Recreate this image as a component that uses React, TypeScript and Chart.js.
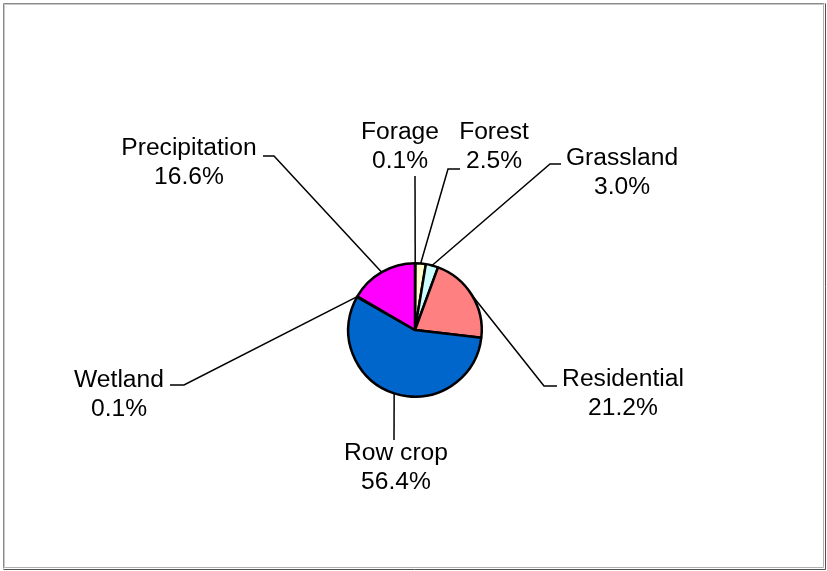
import React, { useEffect, useRef } from "react";
import { Chart, registerables } from "chart.js";

Chart.register(...registerables);

const categories = ["Forage", "Forest", "Grassland", "Residential", "Row crop", "Wetland", "Precipitation"];
const shares = [0.1, 2.5, 3.0, 21.2, 56.4, 0.1, 16.6];
const sliceColors = ["#993366", "#FFFFCC", "#CCFFFF", "#FF8080", "#0066CC", "#CCCCFF", "#FF00FF"];

// Layout of the callout labels, relative to the pie centre (pixels).
// label: centre of first text line; elbow: [near-label point, bend point] or single point.
const labelLayout: { label: [number, number]; elbow: [number, number][] }[] = [
  { label: [-15, -197], elbow: [[0, -154]] },
  { label: [79, -197], elbow: [[45, -161], [33, -161]] },
  { label: [207, -171], elbow: [[146, -166], [135, -166]] },
  { label: [208, 50], elbow: [[142, 56], [129, 56]] },
  { label: [-19, 124], elbow: [[-21, 110]] },
  { label: [-296, 51], elbow: [[-245, 55], [-231, 55]] },
  { label: [-226, -181], elbow: [[-152, -174], [-141, -174]] },
];

const FONT = "23px 'Liberation Sans', Arial, sans-serif";
const XSCALE = 1.07;
const LINE_GAP = 29;

const calloutPlugin = {
  id: "callouts",
  beforeDraw(chart: any) {
    const ctx = chart.ctx;
    const w = chart.width;
    const h = chart.height;
    ctx.save();
    ctx.fillStyle = "#ffffff";
    ctx.fillRect(0, 0, w, h);
    ctx.lineWidth = 1;
    ctx.strokeStyle = "#8a8a8a";
    ctx.beginPath();
    ctx.moveTo(3.5, h - 2.5);
    ctx.lineTo(3.5, 3.5);
    ctx.lineTo(w - 2.5, 3.5);
    ctx.stroke();
    ctx.strokeStyle = "#c8c8c8";
    ctx.beginPath();
    ctx.moveTo(4.5, h - 3.5);
    ctx.lineTo(4.5, 4.5);
    ctx.lineTo(w - 3.5, 4.5);
    ctx.stroke();
    ctx.strokeStyle = "#505050";
    ctx.beginPath();
    ctx.moveTo(3.5, h - 1.5);
    ctx.lineTo(w - 1.5, h - 1.5);
    ctx.lineTo(w - 1.5, 3.5);
    ctx.stroke();
    ctx.strokeStyle = "#b0b0b0";
    ctx.beginPath();
    ctx.moveTo(4.5, h - 3.5);
    ctx.lineTo(w - 3.5, h - 3.5);
    ctx.lineTo(w - 3.5, 4.5);
    ctx.stroke();
    ctx.restore();
  },
  afterDraw(chart: any) {
    const ctx = chart.ctx;
    const meta = chart.getDatasetMeta(0);
    ctx.save();
    meta.data.forEach((arc: any, i: number) => {
      const p = arc.getProps(["x", "y", "startAngle", "endAngle", "outerRadius"], true);
      const mid = (p.startAngle + p.endAngle) / 2;
      const ax = p.x + Math.cos(mid) * p.outerRadius;
      const ay = p.y + Math.sin(mid) * p.outerRadius;
      const lay = labelLayout[i];
      ctx.strokeStyle = "#000000";
      ctx.lineWidth = 1.5;
      ctx.beginPath();
      ctx.moveTo(ax, ay);
      for (let k = lay.elbow.length - 1; k >= 0; k--) {
        ctx.lineTo(p.x + lay.elbow[k][0], p.y + lay.elbow[k][1]);
      }
      ctx.stroke();
      const lines = [categories[i], shares[i].toFixed(1) + "%"];
      ctx.fillStyle = "#000000";
      ctx.font = FONT;
      ctx.textAlign = "center";
      ctx.textBaseline = "middle";
      lines.forEach((t, j) => {
        ctx.save();
        ctx.translate(p.x + lay.label[0], p.y + lay.label[1] + j * LINE_GAP);
        ctx.scale(XSCALE, 1);
        ctx.fillText(t, 0, 0);
        ctx.restore();
      });
    });
    ctx.restore();
  },
};

export default function App() {
  const ref = useRef<HTMLCanvasElement | null>(null);
  useEffect(() => {
    if (!ref.current) return;
    const chart = new Chart(ref.current, {
      type: "pie",
      data: {
        labels: categories,
        datasets: [
          {
            data: shares,
            backgroundColor: sliceColors,
            borderColor: "#000000",
            borderWidth: 2.5,
          },
        ],
      },
      options: {
        responsive: false,
        animation: false,
        layout: { padding: { left: 347, right: 344, top: 262, bottom: 173 } },
        plugins: {
          legend: { display: false },
          tooltip: { enabled: false },
        },
      },
      plugins: [calloutPlugin],
    });
    return () => chart.destroy();
  }, []);
  return (
    <div style={{ position: "fixed", left: 0, top: 0, width: 827, height: 571 }}>
      <canvas ref={ref} width={827} height={571} style={{ display: "block" }} />
    </div>
  );
}
